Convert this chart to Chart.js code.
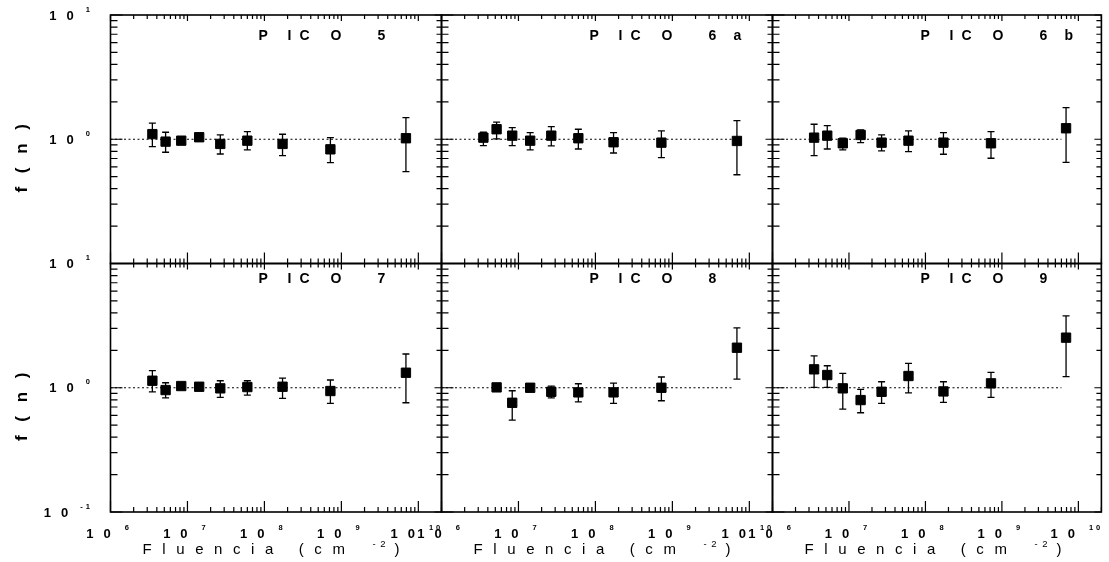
<!DOCTYPE html>
<html>
<head>
<meta charset="utf-8">
<script src="https://cdn.jsdelivr.net/npm/chart.js@4.4.0/dist/chart.umd.min.js"></script>
<style>
  html, body { margin: 0; padding: 0; background: #fff; }
  #wrap { position: relative; width: 1109px; height: 562px; }
  #wrap canvas { position: absolute; left: 0; top: 0; }
</style>
</head>
<body>
<div id="wrap"></div>
<script>
// Fluence of each irradiation step (cm^-2), same for every panel
const fluence = [3.5e6, 5.2e6, 8.3e6, 1.42e7, 2.67e7, 6.0e7, 1.72e8, 7.2e8, 6.9e9];

// reference line f(n) = 1
const refLineX = [1e6, 6e9];
const refLineY = [1, 1];

// axis limits and decade labels
const xLimits = [1e6, 2e10];
const yLimits = [0.1, 10];
const xDecades = [6, 7, 8, 9, 10];
const yDecadesTop = [1, 0];
const yDecadesBottom = [1, 0, -1];

// f(n) per peak, with upper / lower error bar ends
const pico5   = [1.10, 0.957, 0.974, 1.038, 0.917, 0.974, 0.917, 0.83, 1.019];
const pico5Hi = [1.346, 1.139, 1.03, 1.09, 1.083, 1.152, 1.097, 1.03, 1.493];
const pico5Lo = [0.872, 0.786, 0.93, 0.99, 0.761, 0.820, 0.738, 0.648, 0.548];

const pico6a   = [1.030, 1.204, 1.069, 0.974, 1.069, 1.019, 0.946, 0.939, 0.969];
const pico6aHi = [1.139, 1.371, 1.240, 1.130, 1.263, 1.204, 1.130, 1.167, 1.412];
const pico6aLo = [0.888, 1.006, 0.888, 0.820, 0.883, 0.835, 0.775, 0.711, 0.518];

const pico6b   = [1.030, 1.069, 0.928, 1.083, 0.939, 0.974, 0.939, 0.928, 1.226];
const pico6bHi = [1.321, 1.287, 1.02, 1.189, 1.083, 1.167, 1.130, 1.152, 1.798];
const pico6bLo = [0.738, 0.835, 0.82, 0.939, 0.805, 0.794, 0.757, 0.703, 0.652];

const pico7   = [1.139, 0.958, 1.032, 1.019, 0.989, 1.013, 1.019, 0.941, 1.321];
const pico7Hi = [1.371, 1.097, 1.07, 1.07, 1.139, 1.139, 1.197, 1.154, 1.869];
const pico7Lo = [0.928, 0.830, 0.99, 0.97, 0.837, 0.873, 0.821, 0.748, 0.757];

const pico8   = [null, 1.007, 0.757, 1.0, 0.928, 0.918, 0.918, 1.0, 2.10];
const pico8Hi = [null, 1.04, 0.946, 1.04, 1.032, 1.077, 1.091, 1.22, 3.03];
const pico8Lo = [null, 0.97, 0.549, 0.96, 0.830, 0.771, 0.748, 0.786, 1.175];

const pico9   = [1.407, 1.266, 0.989, 0.796, 0.928, 1.243, 0.934, 1.085, 2.53];
const pico9Hi = [1.802, 1.504, 1.306, 0.971, 1.118, 1.573, 1.118, 1.331, 3.79];
const pico9Lo = [1.007, 1.007, 0.673, 0.629, 0.748, 0.911, 0.763, 0.837, 1.227];

const panels = [
  { name: "5",   y: pico5,  hi: pico5Hi,  lo: pico5Lo },
  { name: "6 a", y: pico6a, hi: pico6aHi, lo: pico6aLo },
  { name: "6 b", y: pico6b, hi: pico6bHi, lo: pico6bLo },
  { name: "7",   y: pico7,  hi: pico7Hi,  lo: pico7Lo },
  { name: "8",   y: pico8,  hi: pico8Hi,  lo: pico8Lo },
  { name: "9",   y: pico9,  hi: pico9Hi,  lo: pico9Lo },
];

// page layout
const W = 1109, H = 562;
const colEdges = [110.5, 441.5, 772.5, 1103.5];
const rowEdges = [15, 263.5, 512];
const FONT = "'Liberation Sans', Arial, Helvetica, sans-serif";

function logTicks(min, max) {
  const out = [];
  const e0 = Math.floor(Math.log10(min)), e1 = Math.ceil(Math.log10(max));
  for (let e = e0; e <= e1; e++) {
    for (let k = 1; k <= 9; k++) {
      const v = k * Math.pow(10, e);
      if (v >= min * 0.999 && v <= max * 1.001) out.push({ v, major: k === 1 });
    }
  }
  return out;
}

// text with extra letter spacing
function spacedWidth(ctx, text, sp) {
  const chars = [...text];
  return chars.reduce((a, c) => a + ctx.measureText(c).width, 0) + sp * (chars.length - 1);
}
function drawSpaced(ctx, text, x, y, sp) {
  ctx.textAlign = "left";
  let cx = x;
  for (const c of text) {
    ctx.fillText(c, cx, y);
    cx += ctx.measureText(c).width + sp;
  }
  return cx - sp;
}

// "1 0" with a raised exponent
const BASE_FONT = "bold 13px " + FONT;
const EXP_FONT = "bold 7.5px " + FONT;
function powerWidth(ctx, exp, gap) {
  ctx.font = BASE_FONT;
  const bw = spacedWidth(ctx, "10", 10);
  ctx.font = EXP_FONT;
  const ew = spacedWidth(ctx, exp, 3);
  return bw + gap + ew;
}
function drawPower(ctx, exp, x, y, gap) {
  ctx.textBaseline = "middle";
  ctx.font = BASE_FONT;
  const end = drawSpaced(ctx, "10", x, y, 10);
  ctx.font = EXP_FONT;
  drawSpaced(ctx, exp, end + gap, y - 6.5, 3);
}

const errorBars = {
  id: "errorBars",
  afterDatasetsDraw(chart) {
    const ctx = chart.ctx, ys = chart.scales.y;
    chart.data.datasets.forEach((ds, i) => {
      if (!ds.errors) return;
      const meta = chart.getDatasetMeta(i);
      ctx.save();
      ctx.strokeStyle = "#000";
      ctx.lineWidth = 1.3;
      ctx.beginPath();
      meta.data.forEach((pt, j) => {
        const raw = ds.data[j];
        const yt = ys.getPixelForValue(raw.hi), yb = ys.getPixelForValue(raw.lo);
        ctx.moveTo(pt.x, yt); ctx.lineTo(pt.x, yb);
        ctx.moveTo(pt.x - 3.5, yt); ctx.lineTo(pt.x + 3.5, yt);
        ctx.moveTo(pt.x - 3.5, yb); ctx.lineTo(pt.x + 3.5, yb);
      });
      ctx.stroke();
      ctx.restore();
    });
  }
};

const frameAndText = {
  id: "frameAndText",
  afterDraw(chart) {
    const { ctx, chartArea: a } = chart;
    const xs = chart.scales.x, ys = chart.scales.y;
    const o = chart.options.plugins.frameAndText;
    ctx.save();
    ctx.strokeStyle = "#000";
    ctx.fillStyle = "#000";

    // frame
    ctx.lineWidth = 1.6;
    ctx.strokeRect(a.left, a.top, a.right - a.left, a.bottom - a.top);

    // inward ticks on all sides
    ctx.lineWidth = 1.2;
    ctx.beginPath();
    logTicks(xLimits[0], xLimits[1]).forEach(t => {
      const px = xs.getPixelForValue(t.v);
      ctx.moveTo(px, a.bottom); ctx.lineTo(px, a.bottom - (t.major ? 11 : 5));
      ctx.moveTo(px, a.top); ctx.lineTo(px, a.top + (t.major ? 6 : 4));
    });
    logTicks(yLimits[0], yLimits[1]).forEach(t => {
      const py = ys.getPixelForValue(t.v);
      ctx.moveTo(a.left, py); ctx.lineTo(a.left + (t.major ? 12 : 7), py);
      ctx.moveTo(a.right, py); ctx.lineTo(a.right - (t.major ? 7 : 5), py);
    });
    ctx.stroke();

    // panel title
    ctx.font = "bold 14px " + FONT;
    ctx.textBaseline = "middle";
    ctx.textAlign = "left";
    const ty = o.row === 0 ? a.top + 21 : a.top + 16;
    const letters = [["P", 149], ["I", 178], ["C", 190], ["O", 221]];
    letters.forEach(([c, dx]) => ctx.fillText(c, a.left + dx - 1, ty));
    const nameParts = o.name.split(" ");
    ctx.fillText(nameParts[0], a.left + 267, ty);
    if (nameParts[1]) ctx.fillText(nameParts[1], a.left + 292, ty);

    // y tick labels + title on the left column
    if (o.col === 0) {
      const decs = o.row === 0 ? yDecadesTop : yDecadesBottom;
      decs.forEach(e => {
        const exp = e < 0 ? "-" + Math.abs(e) : String(e);
        const w = powerWidth(ctx, exp, 12);
        drawPower(ctx, exp, 90 - w, ys.getPixelForValue(Math.pow(10, e)) + 1, 12);
      });
      ctx.save();
      ctx.font = "bold 17px " + FONT;
      ctx.textBaseline = "middle";
      const title = "f ( n )";
      const tw = spacedWidth(ctx, title, 4.5);
      ctx.translate(22, (a.top + a.bottom) / 2 + 19);
      ctx.rotate(-Math.PI / 2);
      drawSpaced(ctx, title, -tw / 2, 0, 4.5);
      ctx.restore();
    }

    // x tick labels + title on the bottom row
    if (o.row === 1) {
      xDecades.forEach(e => {
        const px = xs.getPixelForValue(Math.pow(10, e));
        const w = powerWidth(ctx, String(e), 14);
        drawPower(ctx, String(e), px - 3 - w / 2, 534, 14);
      });
      ctx.font = "15px " + FONT;
      ctx.textBaseline = "middle";
      drawSpaced(ctx, "Fluencia (cm", a.left + 32, 550, 10.6);
      ctx.font = "9.5px " + FONT;
      drawSpaced(ctx, "- 2", a.left + 262, 544, 1);
      ctx.font = "15px " + FONT;
      ctx.fillText(")", a.left + 284, 550);
    }
    ctx.restore();
  }
};

const wrap = document.getElementById("wrap");

panels.forEach((p, idx) => {
  const row = Math.floor(idx / 3), col = idx % 3;
  const canvas = document.createElement("canvas");
  canvas.width = W;
  canvas.height = H;
  wrap.appendChild(canvas);

  const points = [];
  fluence.forEach((x, i) => {
    if (p.y[i] == null) return;
    points.push({ x, y: p.y[i], hi: p.hi[i], lo: p.lo[i] });
  });
  const refLine = refLineX.map((x, i) => ({ x, y: refLineY[i] }));

  new Chart(canvas, {
    type: "scatter",
    data: {
      datasets: [
        {
          data: refLine,
          showLine: true,
          borderColor: "#000",
          borderWidth: 1,
          borderDash: [2, 2.5],
          pointRadius: 0,
          fill: false
        },
        {
          data: points,
          errors: true,
          pointStyle: "rect",
          pointRadius: 6.6,
          backgroundColor: "#000",
          borderColor: "#000",
          borderWidth: 1
        }
      ]
    },
    options: {
      responsive: false,
      animation: false,
      devicePixelRatio: 1,
      events: [],
      layout: {
        padding: {
          left: colEdges[col],
          right: W - colEdges[col + 1],
          top: rowEdges[row],
          bottom: H - rowEdges[row + 1]
        }
      },
      plugins: {
        legend: { display: false },
        tooltip: { enabled: false },
        frameAndText: { row, col, name: p.name }
      },
      scales: {
        x: { type: "logarithmic", display: false, min: xLimits[0], max: xLimits[1] },
        y: { type: "logarithmic", display: false, min: yLimits[0], max: yLimits[1] }
      }
    },
    plugins: [errorBars, frameAndText]
  });
});
</script>
</body>
</html>
